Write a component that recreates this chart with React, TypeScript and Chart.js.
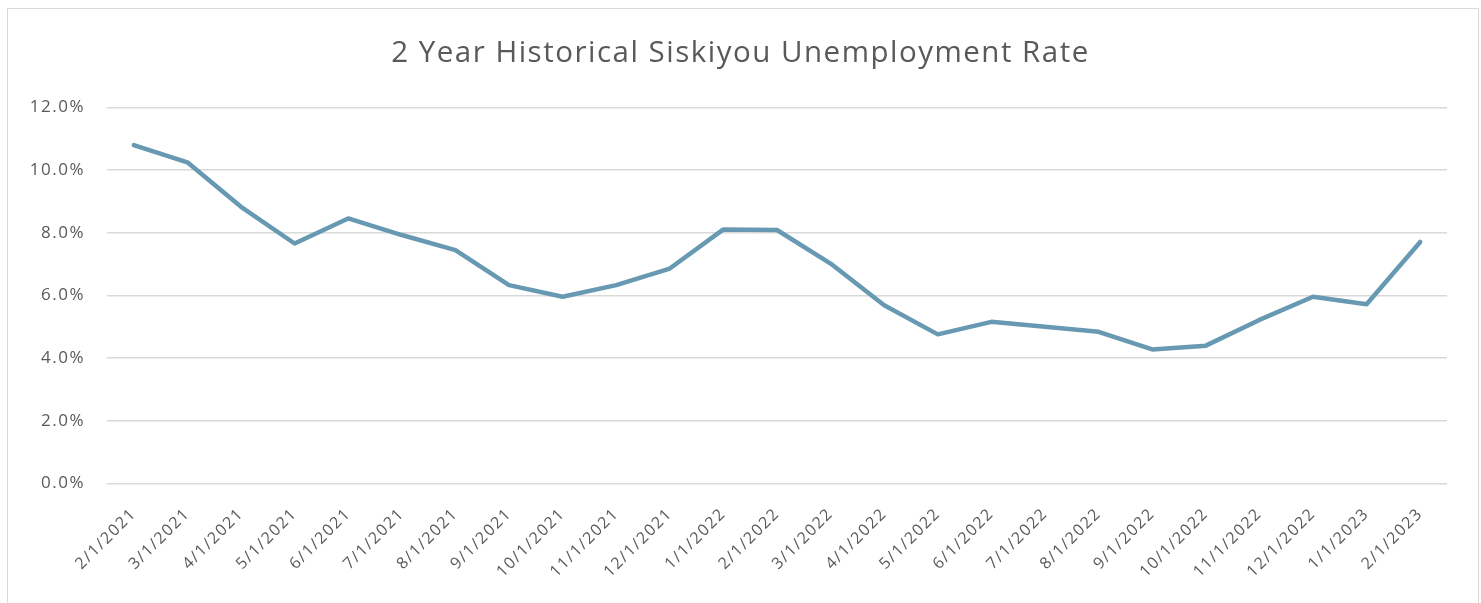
import React, { useEffect, useRef } from "react";
import { Chart, registerables } from "chart.js";

Chart.register(...registerables);

const TITLE = "2 Year Historical Siskiyou Unemployment Rate";

const categories = [
  "2/1/2021", "3/1/2021", "4/1/2021", "5/1/2021", "6/1/2021", "7/1/2021",
  "8/1/2021", "9/1/2021", "10/1/2021", "11/1/2021", "12/1/2021", "1/1/2022",
  "2/1/2022", "3/1/2022", "4/1/2022", "5/1/2022", "6/1/2022", "7/1/2022",
  "8/1/2022", "9/1/2022", "10/1/2022", "11/1/2022", "12/1/2022", "1/1/2023",
  "2/1/2023",
];

const unemploymentRate = [
  10.8, 10.25, 8.83, 7.66, 8.46, 7.93, 7.45, 6.33, 5.96, 6.33, 6.86, 8.11,
  8.09, 7.02, 5.69, 4.76, 5.16, 5.0, 4.84, 4.28, 4.4, 5.22, 5.96, 5.72, 7.71,
];

const yTicks = [0, 2, 4, 6, 8, 10, 12];

const FONT = "'Open Sans', Lato, sans-serif";
const TEXT = "#595959";

const spacingPlugin = {
  id: "letterSpacing",
  beforeUpdate(chart: any) {
    chart.ctx.letterSpacing = "1.5px";
  },
  beforeDraw(chart: any) {
    chart.ctx.letterSpacing = "1.5px";
  },
};

export default function App() {
  const ref = useRef<HTMLCanvasElement | null>(null);

  useEffect(() => {
    if (!ref.current) return;
    const chart = new Chart(ref.current, {
      type: "line",
      plugins: [spacingPlugin],
      data: {
        labels: categories,
        datasets: [
          {
            label: "Unemployment Rate",
            data: unemploymentRate,
            borderColor: "#6899b2",
            backgroundColor: "#6899b2",
            borderWidth: 4.5,
            pointRadius: 0,
            pointHoverRadius: 0,
            tension: 0,
            borderJoinStyle: "round",
            borderCapStyle: "round",
            yAxisID: "y",
          },
        ],
      },
      options: {
        responsive: false,
        animation: false,
        layout: { padding: { left: 0, right: 0, top: 0, bottom: 0 } },
        plugins: {
          legend: { display: false },
          tooltip: { enabled: false },
          title: {
            display: true,
            text: TITLE,
            color: TEXT,
            font: { family: FONT, size: 29.5, weight: "normal" },
            padding: { top: 35.5, bottom: 36.6 },
          },
        },
        scales: {
          x: {
            offset: true,
            grid: { display: false },
            border: { display: false },
            ticks: {
              color: TEXT,
              font: { family: FONT, size: 16 },
              minRotation: 45,
              maxRotation: 45,
              autoSkip: false,
              padding: 13,
            },
            afterFit: (scale: any) => {
              scale.height = 119.5;
            },
          },
          y: {
            position: "left",
            min: 0,
            max: 12,
            afterBuildTicks: (scale: any) => {
              scale.ticks = yTicks.map((v) => ({ value: v }));
            },
            grid: {
              color: "#d9d9d9",
              lineWidth: 1.5,
              drawTicks: false,
            },
            border: { display: false },
            ticks: {
              color: TEXT,
              font: { family: FONT, size: 17 },
              padding: 22,
              callback: (v: any) => Number(v).toFixed(1) + "%",
            },
            afterFit: (scale: any) => {
              scale.width = 107;
            },
          },
          yRight: {
            position: "right",
            display: true,
            min: 0,
            max: 12,
            grid: { display: false, drawTicks: false },
            border: { display: false },
            ticks: { display: false },
            afterFit: (scale: any) => {
              scale.width = 34;
            },
          },
        },
      },
    });
    return () => chart.destroy();
  }, []);

  return (
    <div
      style={{
        position: "fixed",
        left: 0,
        top: 0,
        width: 1481,
        height: 603,
        background: "#ffffff",
        overflow: "hidden",
      }}
    >
      <div
        style={{
          position: "absolute",
          left: 7,
          top: 8,
          width: 1472,
          height: 640,
          border: "1px solid #d9d9d9",
          boxSizing: "border-box",
        }}
      />
      <canvas
        ref={ref}
        width={1481}
        height={603}
        style={{ position: "absolute", left: 0, top: 0, width: 1481, height: 603 }}
      />
    </div>
  );
}
